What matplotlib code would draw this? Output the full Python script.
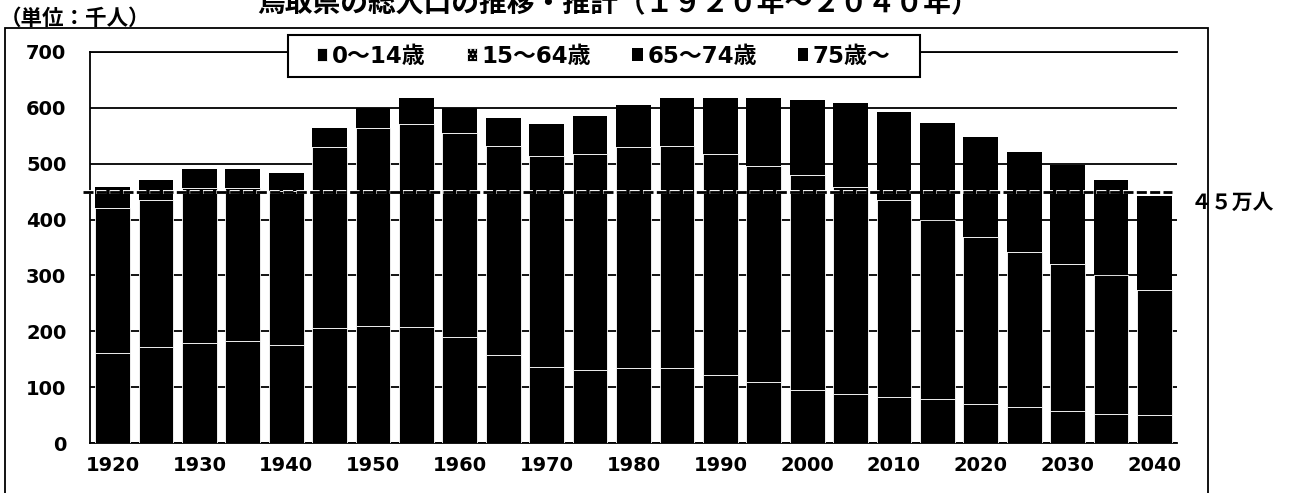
import matplotlib
matplotlib.use('Agg')
import matplotlib.pyplot as plt
import matplotlib.patheffects as pe
from matplotlib.patches import Rectangle

plt.rcParams['font.family'] = ['DejaVu Sans', 'Noto Sans CJK JP']
plt.rcParams['hatch.color'] = 'white'
plt.rcParams['hatch.linewidth'] = 0.6

# population by age group, thousands
years = [1920, 1925, 1930, 1935, 1940, 1945, 1950, 1955, 1960, 1965, 1970, 1975,
         1980, 1985, 1990, 1995, 2000, 2005, 2010, 2015, 2020, 2025, 2030, 2035, 2040]
age_0_14 = [161, 173, 180, 183, 175, 206, 210, 207, 190, 157, 136, 131,
            134, 134, 122, 110, 96, 88, 82, 79, 70, 65, 58, 52, 50]
age_15_64 = [260, 262, 276, 273, 276, 323, 353, 364, 364, 374, 378, 386,
             396, 397, 396, 386, 383, 371, 353, 321, 298, 277, 262, 249, 224]
age_65_74 = [26, 24, 23, 23, 22, 24, 26, 32, 30, 32, 35, 42,
             43, 47, 52, 63, 63, 64, 63, 76, 82, 65, 56, 48, 50]
age_75_over = [12, 12, 11, 11, 11, 11, 11, 14, 16, 18, 21, 26,
               32, 39, 47, 58, 72, 86, 94, 96, 97, 113, 121, 122, 118]

series = [age_0_14, age_15_64, age_65_74, age_75_over]
series_names = ['0～14歳', '15～64歳', '65～74歳', '75歳～']
tick_years = [1920, 1930, 1940, 1950, 1960, 1970, 1980, 1990, 2000, 2010, 2020, 2030, 2040]
yticks = [0, 100, 200, 300, 400, 500, 600, 700]

ref_value = 450
ref_label = '４５万人'
title = '鳥取県の総人口の推移・推計（１９２０年～２０４０年）'
unit_label = '（単位：千人）'

W, H = 1292, 493
fig = plt.figure(figsize=(W / 100, H / 100), dpi=100)
ax = fig.add_axes([90 / W, (H - 443.3) / H, (1177 - 90) / W, (443.3 - 51.7) / H])

x = list(range(len(years)))
bottom = [0] * len(years)
edge_widths = [0.6, 0.6, 0, 0]
for vals, name, lw in zip(series, series_names, edge_widths):
    ax.bar(x, vals, width=0.8, bottom=bottom, color='black',
           edgecolor='white' if lw else 'none', linewidth=lw, label=name, zorder=3)
    bottom = [b + v for b, v in zip(bottom, vals)]

ax.set_xlim(-0.52, 24.52)
ax.set_ylim(0, 700)
ax.set_yticks(yticks)
ax.set_yticklabels([str(v) for v in yticks], fontsize=14, fontweight='bold')
ax.set_xticks([years.index(y) for y in tick_years])
ax.set_xticklabels([str(y) for y in tick_years], fontsize=14, fontweight='bold')
ax.tick_params(axis='y', length=0, pad=17)
ax.tick_params(axis='x', length=0, pad=9)

ax.yaxis.grid(True, color='black', linewidth=1.3, zorder=1)
ax.set_axisbelow(True)
ax.spines['right'].set_visible(False)
for s in ['left', 'top', 'bottom']:
    ax.spines[s].set_linewidth(1.3)

# 450k reference line
ax.axhline(ref_value, xmin=-0.0065, xmax=0.995, color='black', linewidth=2.0,
           dashes=(3.6, 1.2), clip_on=False, zorder=4,
           path_effects=[pe.Stroke(linewidth=2.8, foreground='white'), pe.Normal()])
ax.annotate(ref_label, xy=(1.0125, ref_value), xycoords=('axes fraction', 'data'),
            xytext=(0, -8), textcoords='offset points', ha='left', va='center',
            fontsize=15, fontweight='bold', annotation_clip=False)

# legend box drawn separately so its width can be set freely
ax.add_patch(Rectangle((0.1822, 0.935), 0.7636 - 0.1822, 1.0426 - 0.935,
                       transform=ax.transAxes, facecolor='white', edgecolor='black',
                       linewidth=1.5, clip_on=False, zorder=5))
leg = ax.legend(loc='center left', bbox_to_anchor=(0.2088, 0.989), ncol=4,
                frameon=False, borderaxespad=0, borderpad=0,
                handlelength=0.45, handleheight=0.45, handletextpad=0.2,
                columnspacing=1.8, prop={'size': 16.5, 'weight': 'bold'})
leg.set_zorder(6)
leg.legend_handles[1].set_hatch('....')

# outer chart border
fig.patches.append(Rectangle((5 / W, -0.05), (1208 - 5) / W, (H - 28) / H + 0.05,
                             transform=fig.transFigure, fill=False,
                             edgecolor='black', linewidth=1.3))

fig.text(618 / W, (H - 11) / H, title, ha='center', va='baseline',
         fontsize=20, fontweight='bold', family=['Noto Sans CJK JP'])
fig.text(0 / W, (H - 25) / H, unit_label, ha='left', va='baseline',
         fontsize=15.5, fontweight='bold', family=['Noto Sans CJK JP'])

fig.savefig('out.png', dpi=100)
